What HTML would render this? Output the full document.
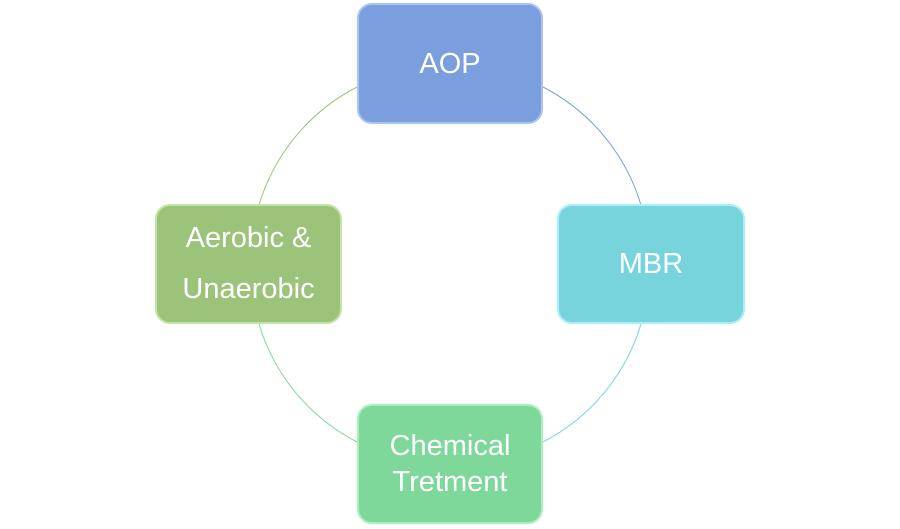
<!DOCTYPE html>
<html><head><style>
body{margin:0;width:900px;height:529px;background:#fff;overflow:hidden;position:relative;font-family:"Liberation Sans",sans-serif}
.b{position:absolute;border-radius:15px;color:#fff;font-size:29px;display:flex;align-items:center;justify-content:center;text-align:center;line-height:36px;box-sizing:border-box}
</style></head><body>
<svg width="900" height="529" style="position:absolute;left:0;top:0">
<g fill="none" stroke-width="1">
<path d="M543 87 A196 196 0 0 1 641 205" stroke="#7b9fde"/>
<path d="M641 324 A196 196 0 0 1 543 442" stroke="#78d4dc"/>
<path d="M357 442 A196 196 0 0 1 259 324" stroke="#7ed89a"/>
<path d="M259 205 A196 196 0 0 1 357 87" stroke="#9bc47a"/>
</g></svg>
<div class="b" style="left:357px;top:3px;width:186px;height:121px;background:#7b9fde;border:2px solid #a9c4f2">AOP</div>
<div class="b" style="left:557px;top:204px;width:188px;height:120px;background:#78d4dc;border:2px solid #a6f0f6">MBR</div>
<div class="b" style="left:357px;top:404px;width:186px;height:120px;background:#7ed89a;border:2px solid #a8f0bd">Chemical<br>Tretment</div>
<div class="b" style="left:155px;top:204px;width:187px;height:120px;background:#9bc47a;border:2px solid #c2e4a6;line-height:51px">Aerobic &amp;<br>Unaerobic</div>
</body></html>
